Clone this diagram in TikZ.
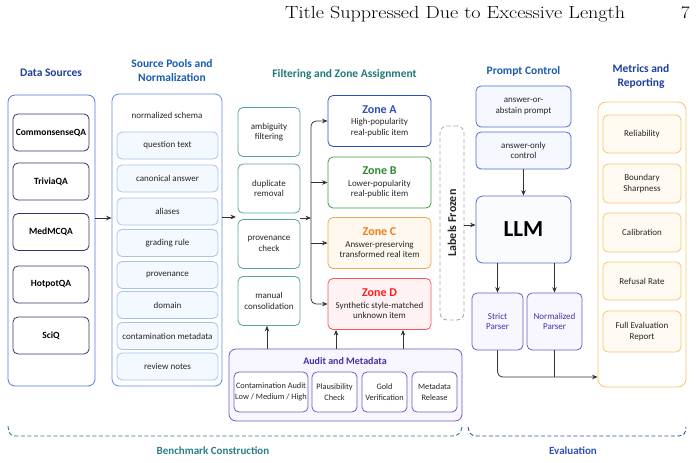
\documentclass[tikz,border=0pt]{standalone}
\usepackage{fontspec}
\newfontfamily\dfont{Carlito}
\usetikzlibrary{arrows.meta}
\definecolor{tblue}{HTML}{1D3E9E}
\definecolor{dsblue}{HTML}{5677D4}
\definecolor{navyb}{HTML}{2E3A66}
\definecolor{spblue}{HTML}{6A8BDD}
\definecolor{splight}{HTML}{A9C3F0}
\definecolor{spfill}{HTML}{F4F8FF}
\definecolor{tealt}{HTML}{1E7A78}
\definecolor{tealb}{HTML}{55A3A3}
\definecolor{zAc}{HTML}{2E4FBF}
\definecolor{zBc}{HTML}{3E9B3E}
\definecolor{zBt}{HTML}{2E8B2E}
\definecolor{zCc}{HTML}{F7A552}
\definecolor{zCt}{HTML}{F07D1A}
\definecolor{zCf}{HTML}{FFF8EE}
\definecolor{zDc}{HTML}{F25A5A}
\definecolor{zDt}{HTML}{FF1E1E}
\definecolor{zDf}{HTML}{FFF2F2}
\definecolor{purb}{HTML}{7059C6}
\definecolor{purt}{HTML}{4A2EA6}
\definecolor{purf}{HTML}{F8F6FE}
\definecolor{pblue}{HTML}{4F6CCB}
\definecolor{pfill}{HTML}{F5F8FF}
\definecolor{orb}{HTML}{FBC566}
\definecolor{orf}{HTML}{FFFBF3}
\definecolor{txt}{HTML}{262626}
\definecolor{arrc}{HTML}{333333}
\definecolor{bctl}{HTML}{2A7F86}
\definecolor{evb}{HTML}{2F52B5}
\tikzset{
  base/.style={rounded corners=5pt, line width=0.8pt, align=center, inner sep=1pt, text=txt,
    font=\dfont\fontsize{9}{10.5}\selectfont},
  ttl/.style={font=\dfont\bfseries\fontsize{11.5}{13.5}\selectfont, align=center},
  dsbox/.style={base, draw=navyb, fill=white, minimum width=76pt, minimum height=37pt,
    font=\dfont\bfseries\fontsize{9.5}{11}\selectfont, text=black},
  spbox/.style={base, draw=splight, fill=spfill, minimum width=101pt, minimum height=27pt},
  fbox/.style={base, draw=tealb, fill=white, minimum width=62pt, minimum height=49pt},
  zbox/.style={base, minimum width=103pt, minimum height=51pt},
  aubox/.style={base, draw=purb, fill=white, minimum height=40pt, font=\dfont\fontsize{8.3}{10.5}\selectfont},
  pbox/.style={base, draw=pblue, fill=pfill, minimum width=95pt},
  parbox/.style={base, draw=purb, fill=purf, minimum height=57pt, text=purt},
  mbox/.style={base, draw=orb, fill=orf, minimum width=78pt},
  arr/.style={draw=arrc, line width=0.8pt, -{Stealth[length=5.5pt,width=4.5pt]}},
  lin/.style={draw=arrc, line width=0.8pt},
  brk/.style={line width=0.9pt, dash pattern=on 4pt off 2.5pt}
}
\begin{document}
\begin{tikzpicture}[x=1pt,y=-1pt]
\useasboundingbox (0,0) rectangle (697,463);
% header
\node[anchor=base west, inner sep=0, xscale=1.15, font=\fontsize{17.5}{19}\selectfont] (hdr) at (285,18) {Title Suppressed Due to Excessive Length};
\node[anchor=base east, inner sep=0, xscale=1.1, font=\fontsize{17.5}{19}\selectfont] (pg) at (690,18) {7};

% ---- Data sources
\node[ttl, text=tblue] (tds) at (51,73) {Data Sources};
\node[base, draw=dsblue, fill=white, rounded corners=7pt, minimum width=87pt, minimum height=291pt] (dso) at (51.5,240.5) {};
\node[dsbox] (cqa) at (51,132.5) {CommonsenseQA};
\node[dsbox] (tqa) at (51,181.5) {TriviaQA};
\node[dsbox] (mqa) at (51,232) {MedMCQA};
\node[dsbox] (hqa) at (51,284.5) {HotpotQA};
\node[dsbox] (sqa) at (51,335.5) {SciQ};

% ---- Source pools
\node[ttl, text=tblue!85!cyan] (tsp) at (172,70.5) {Source Pools and\\Normalization};
\node[base, draw=spblue, fill=white, rounded corners=7pt, minimum width=110pt, minimum height=292pt] (spo) at (167,240) {};
\node[base] (nsch) at (167,115) {normalized schema};
\node[spbox] (s1) at (167.5,145.5) {question text};
\node[spbox] (s2) at (167.5,178.5) {canonical answer};
\node[spbox] (s3) at (167.5,211.5) {aliases};
\node[spbox] (s4) at (167.5,243) {grading rule};
\node[spbox] (s5) at (167.5,275) {provenance};
\node[spbox] (s6) at (167.5,305) {domain};
\node[spbox] (s7) at (167.5,336) {contamination metadata};
\node[spbox] (s8) at (167.5,366.5) {review notes};

\coordinate (a1) at (0,218);
\draw[arr] (dso.east |- a1) -- (spo.west |- a1);

% ---- Filtering
\node[ttl, text=tealt] (tf) at (344.5,74) {Filtering and Zone Assignment};
\node[fbox] (f1) at (269,132) {ambiguity\\filtering};
\node[fbox] (f2) at (269,188.5) {duplicate\\removal};
\node[fbox] (f3) at (269,244) {provenance\\check};
\node[fbox] (f4) at (269,301) {manual\\consolidation};
\coordinate (fin) at (236,217);
\draw[arr] (spo.east |- fin) -- (fin);

\node[zbox, draw=zAc, fill=white] (zA) at (379.5,121) {};
\node[zbox, draw=zBc, fill=white] (zB) at (379.5,182.5) {};
\node[zbox, draw=zCc, fill=zCf] (zC) at (379.5,243) {};
\node[zbox, draw=zDc, fill=zDf] (zD) at (379.5,304) {};
\node[base, align=center] (zAt) at (zA.center) {{\color{zAc}\dfont\bfseries\fontsize{12}{14}\selectfont Zone A}\\[1pt]High-popularity\\real-public item};
\node[base, align=center] (zBt) at (zB.center) {{\color{zBt}\dfont\bfseries\fontsize{12}{14}\selectfont Zone B}\\[1pt]Lower-popularity\\real-public item};
\node[base, align=center] (zCt) at (zC.center) {{\color{zCt}\dfont\bfseries\fontsize{12}{14}\selectfont Zone C}\\[1pt]Answer-preserving\\transformed real item};
\node[base, align=center] (zDt) at (zD.center) {{\color{zDt}\dfont\bfseries\fontsize{12}{14}\selectfont Zone D}\\[1pt]Synthetic style-matched\\unknown item};

\coordinate (fout) at (300,218);
\coordinate (bus) at (311,218);
\draw[arr] (fout) -- (bus);
\draw[arr, rounded corners=5pt] (bus) |- (zA.west);
\draw[arr, rounded corners=5pt] (bus) |- (zD.west);
\draw[arr] (bus |- zB.west) -- (zB.west);
\draw[arr] (bus |- zC.west) -- (zC.west);

% ---- Labels frozen
\node[base, draw=gray!70, dash pattern=on 4pt off 2.5pt, rounded corners=7pt, minimum width=24pt, minimum height=194pt] (lf) at (452,223) {};
\node[rotate=90, inner sep=0, font=\dfont\bfseries\fontsize{12}{14}\selectfont, text=txt] (lft) at (lf.center) {Labels Frozen};

% ---- Audit
\node[base, draw=purb, fill=purf, rounded corners=7pt, minimum width=233pt, minimum height=72pt] (aud) at (345.5,385) {};
\node[font=\dfont\bfseries\fontsize{10}{12}\selectfont, text=purt] (audt) at (345,361) {Audit and Metadata};
\node[aubox, minimum width=74pt] (au1) at (271,392) {Contamination Audit\\Low / Medium / High};
\node[aubox, minimum width=45pt] (au2) at (334.5,392) {Plausibility\\Check};
\node[aubox, minimum width=45pt] (au3) at (384.5,392) {Gold\\Verification};
\node[aubox, minimum width=45pt] (au4) at (434.5,392) {Metadata\\Release};
\coordinate (b0) at (267,0);
\coordinate (b1) at (336,0);
\coordinate (b2) at (403,0);
\draw[arr] (aud.north -| b0) -- (f4.south -| b0);
\draw[arr] (aud.north -| b1) -- (zD.south -| b1);
\draw[arr] (aud.north -| b2) -- (zD.south -| b2);

% ---- Prompt control
\node[ttl, text=tblue!85!cyan] (tpc) at (523.5,71) {Prompt Control};
\node[pbox, minimum height=41pt] (pA) at (523.5,106.5) {answer-or-\\abstain prompt};
\node[pbox, minimum height=37pt] (pB) at (523.5,150.5) {answer-only\\control};
\node[pbox, minimum height=67pt, fill=pfill!60!white, rounded corners=7pt, font=\dfont\bfseries\fontsize{23}{26}\selectfont, text=black] (llm) at (523.5,229.5) {LLM};
\draw[arr] (pB.south) -- (llm.north);
\coordinate (a5) at (0,225);
\draw[arr] (lf.east |- a5) -- (llm.west |- a5);
\node[parbox, minimum width=51pt] (strict) at (497.5,321.5) {Strict\\Parser};
\node[parbox, minimum width=55pt] (norm) at (554.5,321.5) {Normalized\\Parser};
\draw[arr] (llm.south -| strict) -- (strict.north);
\draw[arr] (llm.south -| norm) -- (norm.north);

% ---- Metrics
\node[ttl, text=tblue] (tm) at (641,76.5) {Metrics and\\Reporting};
\node[base, draw=orb, fill=white, rounded corners=8pt, minimum width=88pt, minimum height=285pt] (mo) at (642,244.5) {};
\node[mbox, minimum height=38pt] (m1) at (642,134) {Reliability};
\node[mbox, minimum height=39pt] (m2) at (642,183.5) {Boundary\\Sharpness};
\node[mbox, minimum height=39pt] (m3) at (642,232.5) {Calibration};
\node[mbox, minimum height=38pt] (m4) at (642,281) {Refusal Rate};
\node[mbox, minimum height=41pt] (m5) at (642,331.5) {Full Evaluation\\Report};

\coordinate (a6) at (0,377);
\draw[arr, rounded corners=5pt] (strict.south) |- (mo.west |- a6);
\draw[lin] (norm.south) -- (norm.south |- a6);

% ---- Brackets
\draw[brk, draw=bctl] (8,426) .. controls (8.5,433) and (10,436) .. (16,436) -- (452,436) .. controls (458,436) and (461,433) .. (462,427);
\draw[brk, draw=evb] (468,427) .. controls (469,433) and (471,436) .. (477,436) -- (678,436) .. controls (684,436) and (686,433) .. (686,427);
\node[font=\dfont\bfseries\fontsize{11}{13}\selectfont, text=bctl] (bct) at (213,451) {Benchmark Construction};
\node[font=\dfont\bfseries\fontsize{11}{13}\selectfont, text=evb] (evt) at (573,451) {Evaluation};
\end{tikzpicture}
\end{document}
